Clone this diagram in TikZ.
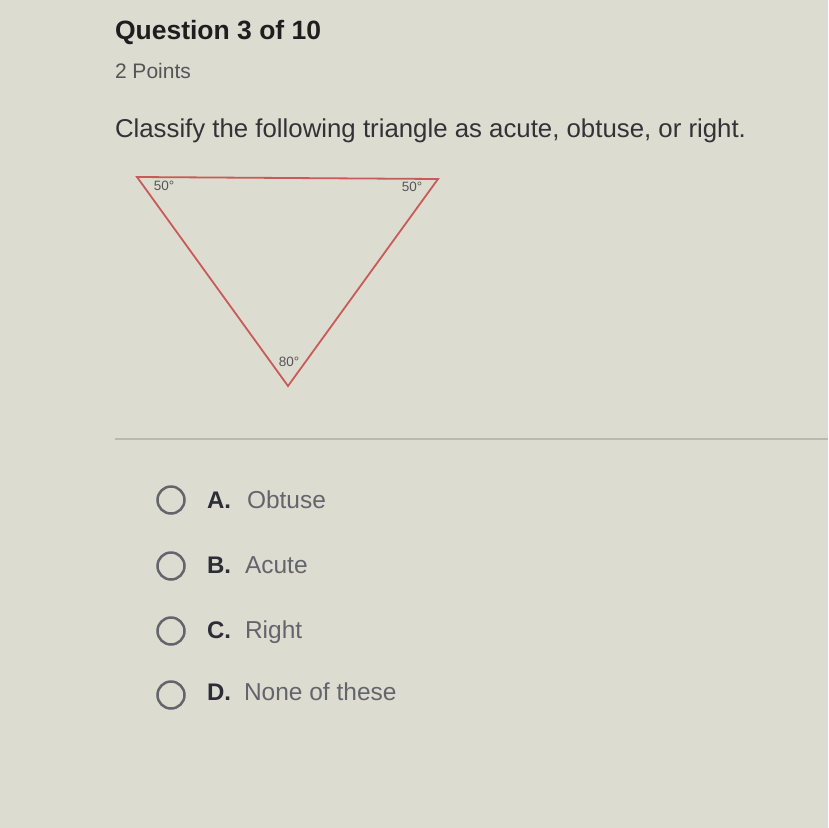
\documentclass[tikz,border=0pt]{standalone}
\usepackage{fontspec}
\setmainfont{Liberation Sans}
\definecolor{bg}{RGB}{221,220,208}
\definecolor{titlec}{RGB}{30,30,32}
\definecolor{subc}{RGB}{85,85,88}
\definecolor{textc}{RGB}{50,50,55}
\definecolor{optc}{RGB}{100,100,108}
\definecolor{letc}{RGB}{45,45,55}
\definecolor{tri}{RGB}{200,90,90}
\definecolor{rulec}{RGB}{185,185,178}
\begin{document}
\begin{tikzpicture}[x=1pt,y=-1pt,
  txt/.style={anchor=base west,inner sep=0pt,outer sep=0pt},
  angl/.style={inner sep=0pt,font=\fontsize{13.5}{13.5}\selectfont,text=subc},
  radio/.style={circle,draw=optc,line width=2.5pt,minimum size=27pt,inner sep=0pt},
  optl/.style={txt,font=\fontsize{24}{24}\selectfont\bfseries,text=letc},
  optt/.style={txt,font=\fontsize{24.5}{24.5}\selectfont,text=optc}]
\fill[bg] (0,0) rectangle (828,828);
\useasboundingbox (0,0) rectangle (828,828);
\node[txt,font=\fontsize{26.5}{26.5}\selectfont\bfseries,text=titlec] (title) at (115,39) {Question 3 of 10};
\node[txt,font=\fontsize{21}{21}\selectfont,text=subc] (pts) at (115,78) {2 Points};
\node[txt,font=\fontsize{25.8}{25.8}\selectfont,text=textc] (q) at (115,137) {Classify the following triangle as acute, obtuse, or right.};
\coordinate (A) at (137,177);
\coordinate (B) at (438,179);
\coordinate (C) at (288,386);
\draw[tri,line width=1.8pt,line join=miter] (A) -- (B) -- (C) -- cycle;
\node[angl] (a1) at (164,186) {50°};
\node[angl] (a2) at (412,187) {50°};
\node[angl] (a3) at (289,362) {80°};
\draw[rulec,line width=1.5pt] (115,439) -- (828,439);
\node[radio] (rA) at (171,500) {};
\node[optl] (lA) at (207,508) {A.};
\node[optt] (tA) at (247,508) {Obtuse};
\node[radio] (rB) at (171,566) {};
\node[optl] (lB) at (207,573) {B.};
\node[optt] (tB) at (245,573) {Acute};
\node[radio] (rC) at (171,631) {};
\node[optl] (lC) at (207,638) {C.};
\node[optt] (tC) at (245,638) {Right};
\node[radio] (rD) at (171,695) {};
\node[optl] (lD) at (207,700) {D.};
\node[optt] (tD) at (244,700) {None of these};
\end{tikzpicture}
\end{document}
